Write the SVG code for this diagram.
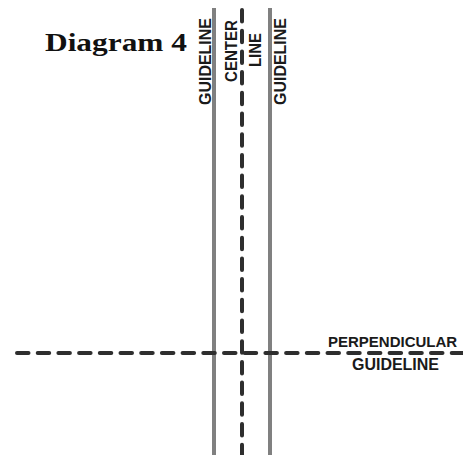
<svg xmlns="http://www.w3.org/2000/svg" width="463" height="455" viewBox="0 0 463 455">
  <style>
    .title { font-family: "Liberation Serif", "Times New Roman", serif; font-weight: bold; font-size: 26px; fill: #111; }
    .lbl { font-family: "Liberation Sans", Arial, sans-serif; font-weight: bold; font-size: 16px; fill: #1a1a1a; }
    .guide { stroke: #808080; stroke-width: 4; fill: none; }
    .dash { stroke: #2e2e2e; stroke-width: 4; fill: none; stroke-linecap: round; stroke-dasharray: 11.5 9.2; }
  </style>
  <rect width="463" height="455" fill="#ffffff"/>
  <g id="title">
    <text class="title" x="45" y="51" textLength="142" lengthAdjust="spacingAndGlyphs">Diagram 4</text>
  </g>
  <g id="connectors">
    <line id="left-guideline" class="guide" x1="214" y1="8" x2="214" y2="455"/>
    <line id="right-guideline" class="guide" x1="270" y1="8" x2="270" y2="455"/>
    <line id="center-line" class="dash" x1="242" y1="10" x2="242" y2="460"/>
    <line id="perpendicular-guideline" class="dash" x1="17" y1="353" x2="470" y2="353"/>
  </g>
  <g id="label-left-guideline">
    <text class="lbl" text-anchor="middle" transform="translate(210.5,61.5) rotate(-90)" textLength="87" lengthAdjust="spacingAndGlyphs">GUIDELINE</text>
  </g>
  <g id="label-center-line">
    <text class="lbl" text-anchor="middle" transform="translate(237,51) rotate(-90)" textLength="62" lengthAdjust="spacingAndGlyphs">CENTER</text>
    <text class="lbl" text-anchor="middle" transform="translate(260.5,50) rotate(-90)" textLength="34" lengthAdjust="spacingAndGlyphs">LINE</text>
  </g>
  <g id="label-right-guideline">
    <text class="lbl" text-anchor="middle" transform="translate(286,61.5) rotate(-90)" textLength="87" lengthAdjust="spacingAndGlyphs">GUIDELINE</text>
  </g>
  <g id="label-perpendicular">
    <text class="lbl" x="328" y="347" style="font-size:15px">PERPENDICULAR</text>
    <text class="lbl" x="352" y="370" textLength="87" lengthAdjust="spacingAndGlyphs">GUIDELINE</text>
  </g>
</svg>
